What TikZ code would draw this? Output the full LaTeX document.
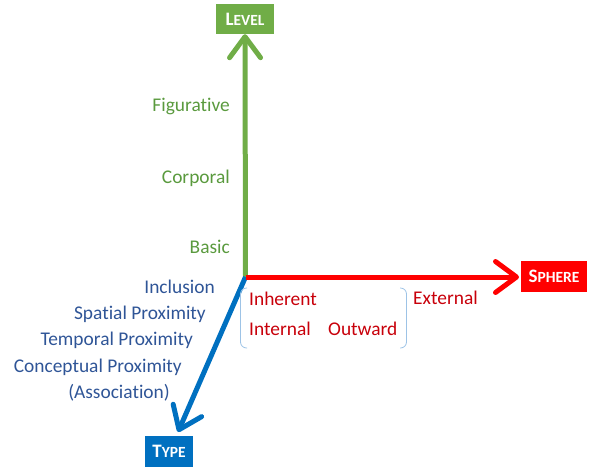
\documentclass[tikz,border=0pt]{standalone}
\usepackage{fontspec}
\setmainfont{Carlito}[Ligatures=NoCommon]
\usetikzlibrary{arrows.meta}
\definecolor{lvgreen}{HTML}{70AD47}
\definecolor{lvgreentext}{HTML}{5A9A3E}
\definecolor{spred}{HTML}{FF0000}
\definecolor{spredtext}{HTML}{C8000A}
\definecolor{tyblue}{HTML}{0070C0}
\definecolor{tybluetext}{HTML}{2F5597}
\definecolor{brk}{HTML}{9DC3E6}
\newcommand\axlabel[2]{{\fontsize{19}{19}\selectfont #1}{\fontsize{15.5}{15.5}\selectfont #2}}
\begin{document}
\begin{tikzpicture}[x=1pt,y=-1pt,
  axisline/.style={line width=5pt, -{Straight Barb[length=21pt,width=31pt,round]}},
  labelbox/.style={inner sep=0pt, text=white, font=\bfseries, anchor=center},
  itemtext/.style={inner sep=0pt, font=\fontsize{19.4}{23}\selectfont},
  brace/.style={draw=brk, line width=0.8pt, rounded corners=6pt}]
\useasboundingbox (0,0) rectangle (589,467);
\coordinate (O) at (245.5,277);
\node[labelbox, fill=lvgreen, minimum width=58pt, minimum height=30pt] (level) at (245,19) {\axlabel{L}{EVEL}};
\node[labelbox, fill=spred, minimum width=66pt, minimum height=31pt] (sphere) at (554,276.5) {\axlabel{S}{PHERE}};
\node[labelbox, fill=tyblue, minimum width=48pt, minimum height=31pt] (type) at (169,451.5) {\axlabel{T}{YPE}};
\coordinate (ttip) at (178,432);
\coordinate (stip) at (519,277);
\draw[axisline, lvgreen] (O) -- (level.south);
\draw[axisline, tyblue] (O) -- (ttip);
\draw[axisline, spred] (O) -- (stip);
% level items
\node[itemtext, text=lvgreentext, anchor=base east] (fig) at (230,111) {Figurative};
\node[itemtext, text=lvgreentext, anchor=base east] (cor) at (230,183) {Corporal};
\node[itemtext, text=lvgreentext, anchor=base east] (bas) at (230,253) {Basic};
% type items
\node[itemtext, text=tybluetext, anchor=base east] (inc) at (215,293) {Inclusion};
\node[itemtext, text=tybluetext, anchor=base east] (spa) at (206,319.3) {Spatial Proximity};
\node[itemtext, text=tybluetext, anchor=base east] (tem) at (193,345.6) {Temporal Proximity};
\node[itemtext, text=tybluetext, anchor=base east] (con) at (182,372) {Conceptual Proximity};
\node[itemtext, text=tybluetext, anchor=base east] (ass) at (170,398) {(Association)};
% sphere items
\node[itemtext, text=spredtext, anchor=base west] (inh) at (249,305) {Inherent};
\node[itemtext, text=spredtext, anchor=base west] (int) at (249,335) {Internal};
\node[itemtext, text=spredtext, anchor=base west] (out) at (328,335) {Outward};
\node[itemtext, text=spredtext, anchor=base west] (ext) at (413,304) {External};
% brackets
\draw[brace] (247,288) -- (240.5,288) -- (240.5,348) -- (247,348);
\draw[brace] (400,288) -- (406.5,288) -- (406.5,348) -- (400,348);
\end{tikzpicture}
\end{document}
